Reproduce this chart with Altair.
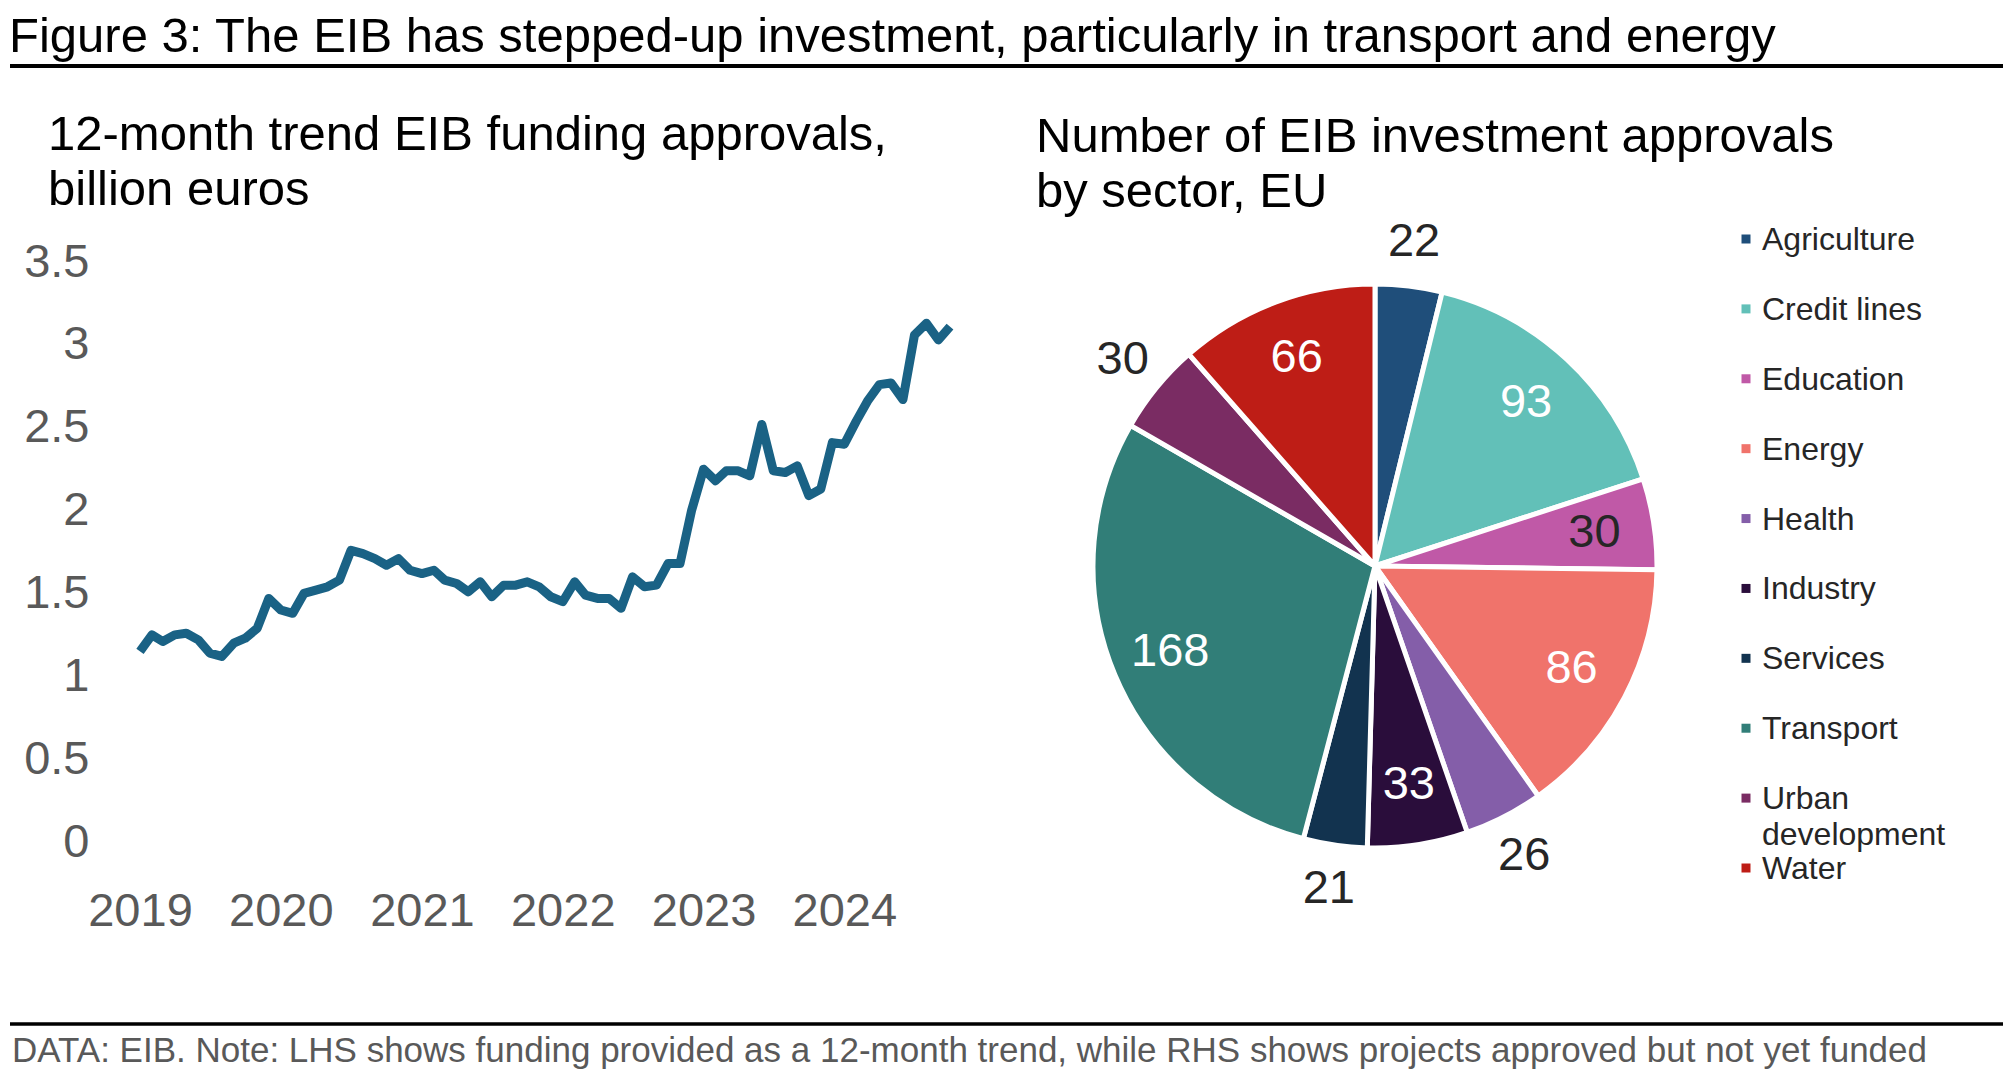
import json
import altair as alt
import pandas as pd

FONT = "Liberation Sans"

# ---------------- text ----------------
TITLE = "Figure 3: The EIB has stepped-up investment, particularly in transport and energy"
LEFT_SUB = "12-month trend EIB funding approvals,\nbillion euros"
RIGHT_SUB = "Number of EIB investment approvals\nby sector, EU"
FOOTER = ("DATA: EIB. Note: LHS shows funding provided as a 12-month trend, "
          "while RHS shows projects approved but not yet funded")

# ---------------- left panel data (monthly, from Jan 2019) ----------------
start_month = "2019-01-01"
funding = [1.15, 1.25, 1.21, 1.25, 1.26, 1.22, 1.14, 1.12, 1.20, 1.23,
           1.29, 1.47, 1.40, 1.38, 1.50, 1.52, 1.54, 1.58, 1.76, 1.74,
           1.71, 1.67, 1.71, 1.64, 1.62, 1.64, 1.58, 1.56, 1.51, 1.57,
           1.48, 1.55, 1.55, 1.57, 1.54, 1.48, 1.45, 1.57, 1.49, 1.47,
           1.47, 1.41, 1.60, 1.54, 1.55, 1.68, 1.68, 2.00, 2.25, 2.18,
           2.24, 2.24, 2.21, 2.52, 2.24, 2.23, 2.27, 2.09, 2.13, 2.41,
           2.40, 2.54, 2.66, 2.76, 2.77, 2.67, 3.06, 3.13, 3.03, 3.11]
year_ticks = [2019, 2020, 2021, 2022, 2023, 2024]
y_ticks = [0, 0.5, 1, 1.5, 2, 2.5, 3, 3.5]

# ---------------- right panel data ----------------
sectors = ["Agriculture", "Credit lines", "Education", "Energy", "Health",
           "Industry", "Services", "Transport", "Urban development", "Water"]
approvals = [22, 93, 30, 86, 26, 33, 21, 168, 30, 66]
sector_colors = ["#1f4e7a", "#62c0b8", "#c059a7", "#f0736b", "#845ea9",
                 "#2a0d3b", "#12334f", "#317e78", "#7a2c63", "#be1d16"]
outside_label_sectors = ["Agriculture", "Health", "Services", "Urban development"]
dark_inside_sectors = ["Education"]

dates = pd.date_range(start_month, periods=len(funding), freq="MS")
line_df = pd.DataFrame({"date": dates.strftime("%Y-%m-%dT00:00:00"), "value": funding})
pie_df = pd.DataFrame({"sector": sectors, "count": approvals, "idx": list(range(len(sectors)))})

one_row = alt.InlineData(values=[{"k": 1}])

# ---------------- annotations ----------------
def text_block(txt, x, y, size, color, line_height=None):
    props = dict(text=txt, font=FONT, fontSize=size, color=color,
                 align="left", baseline="alphabetic", lineBreak="\n")
    if line_height:
        props["lineHeight"] = line_height
    return alt.Chart(one_row).mark_text(**props).encode(x=alt.value(x), y=alt.value(y))

title = text_block(TITLE, 9, 52, 49, "#000000")
left_sub = text_block(LEFT_SUB, 48, 150, 49, "#000000", 55)
right_sub = text_block(RIGHT_SUB, 1036, 152, 49, "#000000", 55)
footer = text_block(FOOTER, 12, 1062, 35, "#595959")

top_rule = alt.Chart(one_row).mark_rule(color="#000000", strokeWidth=4).encode(
    x=alt.value(10), x2=alt.value(2003), y=alt.value(66))
bottom_rule = alt.Chart(one_row).mark_rule(color="#000000", strokeWidth=3.5).encode(
    x=alt.value(10), x2=alt.value(2003), y=alt.value(1024))

# ---------------- line chart ----------------
line = alt.Chart(line_df).mark_line(color="#1a6285", strokeWidth=9, strokeJoin="round").encode(
    x=alt.X("date:T",
            scale=alt.Scale(domain=[alt.DateTime(year=2019, month=1, date=1),
                                    alt.DateTime(year=2024, month=10, date=1)],
                            range=[140, 950]),
            axis=alt.Axis(values=[alt.DateTime(year=y, month=1, date=1) for y in year_ticks],
                          format="%Y", title=None, grid=False, domain=False,
                          ticks=False, tickSize=0, labelPadding=0, offset=-170,
                          labelBaseline="middle", labelFlush=False, labelOverlap=False,
                          labelFont=FONT, labelFontSize=47,
                          labelColor="#595959")),
    y=alt.Y("value:Q",
            scale=alt.Scale(domain=[0, 3.5], range=[842, 262], nice=False, zero=False),
            axis=alt.Axis(values=y_ticks, format="~g", title=None, grid=False,
                          domain=False, ticks=False, tickSize=0, labelPadding=0,
                          offset=-89, labelFlush=False, labelOverlap=False,
                          labelFont=FONT, labelFontSize=47, labelColor="#595959")),
)

# ---------------- pie ----------------
CX, CY, R = 1375, 566, 282
color_scale = alt.Scale(domain=sectors, range=sector_colors)

arcs = alt.Chart(pie_df).mark_arc(outerRadius=R, stroke="white", strokeWidth=5).encode(
    theta=alt.Theta("count:Q", stack=True),
    color=alt.Color("sector:N", scale=color_scale, legend=None),
    order=alt.Order("idx:Q"),
    x=alt.value(CX), y=alt.value(CY),
)

outside_json = json.dumps(outside_label_sectors)

inside_labels = alt.Chart(pie_df).transform_calculate(
    lab=f"indexof({outside_json}, datum.sector) >= 0 ? '' : '' + datum.count"
).mark_text(radius=222, font=FONT, fontSize=47, align="center", baseline="middle").encode(
    theta=alt.Theta("count:Q", stack=True),
    detail="sector:N",
    order=alt.Order("idx:Q"),
    text="lab:N",
    color=alt.condition(alt.FieldOneOfPredicate(field="sector", oneOf=dark_inside_sectors),
                        alt.value("#262626"), alt.value("#ffffff")),
    x=alt.value(CX), y=alt.value(CY),
)

outside_labels = alt.Chart(pie_df).transform_calculate(
    lab=f"indexof({outside_json}, datum.sector) >= 0 ? '' + datum.count : ''"
).mark_text(radius=326, font=FONT, fontSize=47, align="center", baseline="middle",
            color="#262626").encode(
    theta=alt.Theta("count:Q", stack=True),
    detail="sector:N",
    order=alt.Order("idx:Q"),
    text="lab:N",
    x=alt.value(CX), y=alt.value(CY),
)

# ---------------- legend (drawn from the same colour scale) ----------------
legend_y = alt.Y("sector:N", scale=alt.Scale(domain=sectors, range=[239, 868], padding=0), axis=None)

legend_squares = alt.Chart(pie_df).mark_square(size=81, opacity=1).encode(
    x=alt.value(1746),
    y=legend_y,
    color=alt.Color("sector:N", scale=color_scale, legend=None),
)

legend_labels = alt.Chart(pie_df).transform_calculate(
    lab="replace(datum.sector, 'Urban ', 'Urban\\n')"
).mark_text(font=FONT, fontSize=32, align="left", baseline="alphabetic", dy=11,
            lineBreak="\n", lineHeight=36, color="#262626").encode(
    x=alt.value(1762),
    y=legend_y,
    text="lab:N",
)

chart = alt.layer(
    title, left_sub, right_sub, footer, top_rule, bottom_rule,
    line, arcs, inside_labels, outside_labels, legend_squares, legend_labels,
).resolve_scale(y="independent").properties(
    width=2007, height=1081,
    autosize=alt.AutoSizeParams(type="none"),
    padding=0,
    background="white",
).configure_view(stroke=None)

chart.save("out.html", embed_options={"renderer": "svg", "actions": False})
